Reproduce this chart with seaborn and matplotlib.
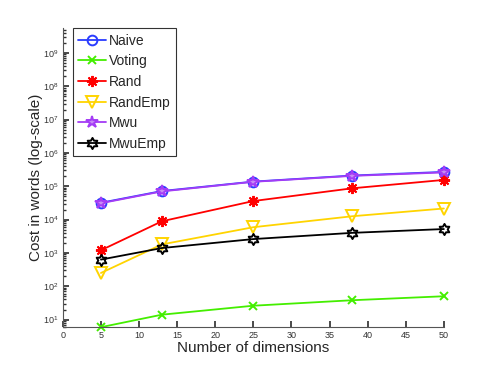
import numpy as np
import pandas as pd
import matplotlib
matplotlib.use("Agg")
import matplotlib.pyplot as plt
from matplotlib.path import Path
from matplotlib.ticker import NullFormatter
import seaborn as sns

dims = [5, 13, 25, 38, 50]
naive = [3.2e4, 7.2e4, 1.38e5, 2.1e5, 2.7e5]
voting = [5.9, 14, 26, 38, 50]
rand = [1.2e3, 8.9e3, 3.6e4, 8.7e4, 1.55e5]
randemp = [2.5e2, 1.8e3, 5.9e3, 1.26e4, 2.15e4]
mwu = [3.1e4, 7.0e4, 1.36e5, 2.05e5, 2.6e5]
mwuemp = [6.3e2, 1.4e3, 2.6e3, 4.0e3, 5.2e3]
x_ticks = [0, 5, 10, 15, 20, 25, 30, 35, 40, 45, 50]
y_ticks = [1e1, 1e2, 1e3, 1e4, 1e5, 1e6, 1e7, 1e8, 1e9]

sns.set_theme(style="white")
plt.rcParams['font.family'] = ['Liberation Sans', 'DejaVu Sans']

# hexagram marker path
ang = np.deg2rad(np.arange(12) * 30 + 90)
rad = np.where(np.arange(12) % 2 == 0, 1.0, 1.0 / np.sqrt(3))
verts = np.column_stack([rad * np.cos(ang), rad * np.sin(ang)])
verts = np.vstack([verts, verts[:1]])
codes = [Path.MOVETO] + [Path.LINETO] * 11 + [Path.CLOSEPOLY]
hexagram = Path(verts, codes)

fig = plt.figure(figsize=(4.91, 3.69), dpi=100)
ax = fig.add_axes([0.128, 0.114, 0.776, 0.81])

series = [
    ("Naive", naive, "#2a3cff", "o", 7, "none"),
    ("Voting", voting, "#44ee00", "x", 5.5, "none"),
    ("Rand", rand, "#ff0000", (8, 2, 0), 8, "none"),
    ("RandEmp", randemp, "#ffd400", "v", 8, "none"),
    ("Mwu", mwu, "#a43cf5", "*", 9, "#c88af5"),
    ("MwuEmp", mwuemp, "#000000", hexagram, 8, "none"),
]
for name, vals, col, mk, ms, fc in series:
    df = pd.DataFrame({"x": dims, "y": vals})
    sns.lineplot(data=df, x="x", y="y", ax=ax, color=col, marker=mk,
                 markersize=ms, markerfacecolor=fc, markeredgecolor=col,
                 markeredgewidth=1.4, linewidth=1.3, label=name, clip_on=False)

ax.set_yscale("log")
ax.set_xlim(0, 50)
ax.set_ylim(6.0, 5.6e9)
ax.set_xticks(x_ticks)
ax.set_xticklabels([str(t) for t in x_ticks])
ax.set_yticks(y_ticks)
ax.yaxis.set_minor_formatter(NullFormatter())
for s in ["top", "right"]:
    ax.spines[s].set_visible(False)
for s in ["left", "bottom"]:
    ax.spines[s].set_color("#555555")
    ax.spines[s].set_linewidth(0.8)
ax.tick_params(axis="both", which="both", direction="in", colors="#333333",
               labelsize=6.5, left=True, bottom=True, pad=3)
ax.tick_params(axis="both", which="major", length=4)
ax.tick_params(axis="y", which="minor", length=2)
ax.set_xlabel("Number of dimensions", fontsize=11, labelpad=1)
ax.set_ylabel("Cost in words (log-scale)", fontsize=11, labelpad=0)

leg = ax.legend(loc="upper left", bbox_to_anchor=(0.026, 1.0), fontsize=10,
                frameon=True, fancybox=False, edgecolor="black",
                handlelength=2.0, borderpad=0.4, labelspacing=0.48,
                handletextpad=0.2, borderaxespad=0)
leg.get_frame().set_linewidth(0.8)

fig.savefig("out.png", dpi=100)
